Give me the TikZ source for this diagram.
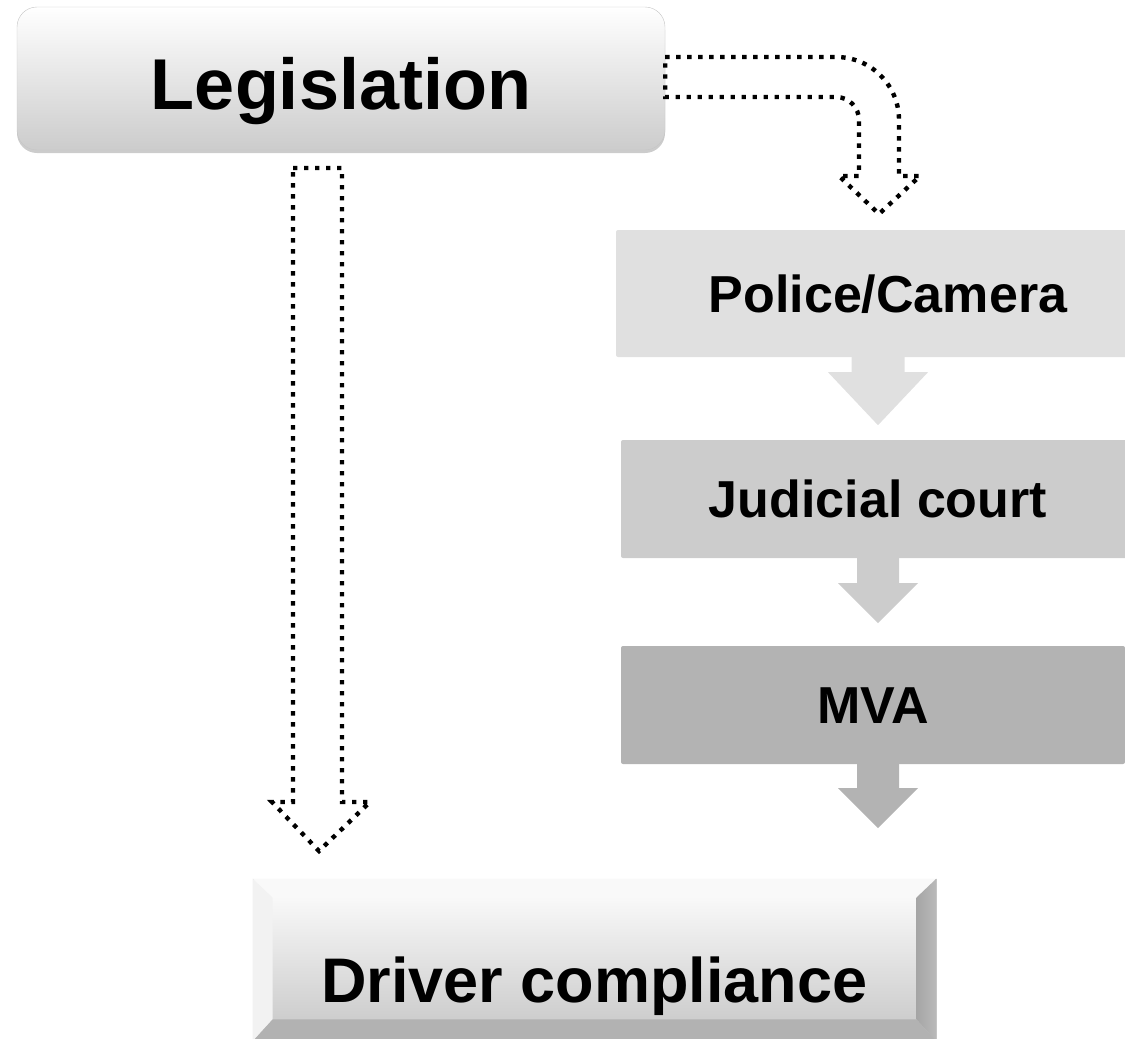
\documentclass[tikz,border=0pt]{standalone}
\usepackage{fontspec}
\setmainfont{Liberation Sans}
\usetikzlibrary{positioning,calc,shadows}

\definecolor{stageone}{HTML}{E0E0E0}
\definecolor{stagetwo}{HTML}{CCCCCC}
\definecolor{stagethree}{HTML}{B3B3B3}

\begin{document}
\begin{tikzpicture}[x=1pt, y=-1pt,
	dotline/.style={line width=4.4pt, dash pattern=on 4.4pt off 6.6pt, line join=miter},
	stagebox/.style={rectangle, rounded corners=2pt, inner sep=0pt, font=\bfseries\fontsize{52}{60}\selectfont, text height=37pt, text depth=0pt}]
	\useasboundingbox (0,0) rectangle (1125,1039);
	\clip (0,0) rectangle (1125,1039);

	% top box
	\node[rounded corners=20pt, draw=gray!45, top color=white, bottom color=gray!40, drop shadow={shadow xshift=0pt, shadow yshift=-3pt, opacity=0.4}, minimum width=648pt, minimum height=143pt, inner sep=0pt, font=\bfseries\fontsize{72}{80}\selectfont, text height=62pt, text depth=0pt] (leg) at (341,78.5) {Legislation};

	% right column
	\node[stagebox, fill=stageone, minimum width=544pt, minimum height=127pt] (police) at (888,293.5) {Police/Camera};
	\node[stagebox, fill=stagetwo, minimum width=514pt, minimum height=118pt] (court) at (878,499) {Judicial court};
	\node[stagebox, fill=stagethree, minimum width=504pt, minimum height=118pt] (mva) at (873,705) {MVA};

	\fill[stageone] ($(police.south -| court.north)+(-26.5,-1)$) -- ++(0,16) -- ++(-23.5,0) -- ($(police.south -| court.north)+(0,68)$) -- ++(50,-53) -- ++(-23.5,0) -- ++(0,-16) -- cycle;
	\fill[stagetwo] ($(court.south)+(-21,-1)$) -- ++(0,26) -- ++(-19,0) -- ($(court.south)+(0,65)$) -- ++(40,-40) -- ++(-19,0) -- ++(0,-26) -- cycle;
	\fill[stagethree] ($(mva.south -| court.north)+(-21,-1)$) -- ++(0,25) -- ++(-19,0) -- ($(mva.south -| court.north)+(0,64)$) -- ++(40,-40) -- ++(-19,0) -- ++(0,-25) -- cycle;

	% bottom box
	\node[rectangle, draw=gray!40, line width=0.8pt, top color=white, middle color=white, bottom color=gray!45, minimum width=683pt, minimum height=162pt, inner sep=0pt] (drv) at (594.5,960) {};
	\fill[gray!5] (drv.north west) -- (drv.north east) -- ($(drv.north east)+(-20,19)$) -- ($(drv.north west)+(20,19)$) -- cycle;
	\fill[gray!10] (drv.north west) -- ($(drv.north west)+(20,19)$) -- ($(drv.south west)+(20,-22)$) -- (drv.south west) -- cycle;
	\shade[left color=gray!70, right color=gray!55] (drv.north east) -- ($(drv.north east)+(-20,19)$) -- ($(drv.south east)+(-20,-22)$) -- (drv.south east) -- cycle;
	\fill[gray!60] (drv.south west) -- ($(drv.south west)+(20,-22)$) -- ($(drv.south east)+(-20,-22)$) -- (drv.south east) -- cycle;
	\node[font=\bfseries\fontsize{63}{70}\selectfont, text height=84pt, text depth=0pt, inner sep=0pt] (drvtext) at (drv.center) {Driver compliance};

	% dotted arrows
	\coordinate (lawtop) at (317.5,168);
	\coordinate (lawtip) at (319,851);
	\draw[dotline] ($(lawtop)+(-24.5,0)$) -- ($(lawtop)+(24.5,0)$) -- ($(lawtip)+(23,-49)$) -- ($(lawtip)+(51,-49)$) -- (lawtip) -- ($(lawtip)+(-47,-49)$) -- ($(lawtip)+(-26,-49)$) -- cycle;

	\coordinate (bend) at (836,120);
	\coordinate (camtip) at (879,214);
	\draw[dotline] ($(leg.east)+(0,-21.5)$) -- ($(bend)+(0,-63)$) arc[start angle=270, end angle=360, radius=63] -- ($(camtip)+(20,-38)$) -- ($(camtip)+(41,-38)$) -- (camtip) -- ($(camtip)+(-40,-38)$) -- ($(camtip)+(-20,-38)$) -- ($(bend)+(23,0)$) arc[start angle=0, end angle=-90, radius=23] -- ($(leg.east)+(0,18.5)$) -- cycle;
\end{tikzpicture}
\end{document}
